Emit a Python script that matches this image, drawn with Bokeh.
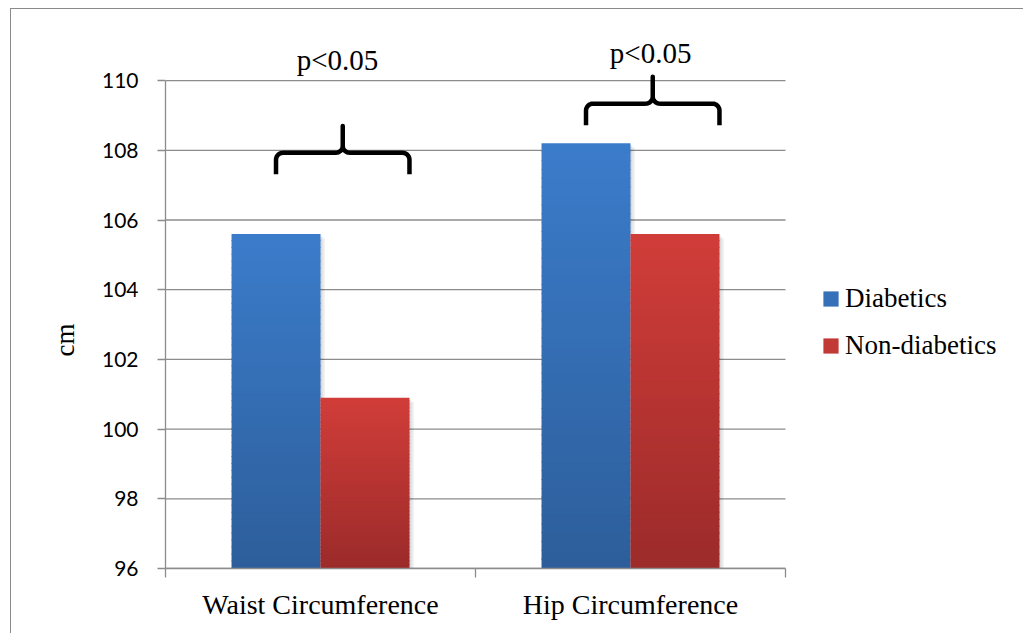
import math
import numpy as np
from bokeh.plotting import figure
from bokeh.models import (FixedTicker, Range1d, ColumnDataSource, Legend,
                          LegendItem, Title, InlineStyleSheet)
from bokeh.core.properties import value
from bokeh.embed import file_html
from bokeh.resources import INLINE

# ---- data -------------------------------------------------------------
categories = ["Waist Circumference", "Hip Circumference"]
series_names = ["Diabetics", "Non-diabetics"]
diabetics = [105.6, 108.2]
non_diabetics = [100.9, 105.6]
y_ticks = [96, 98, 100, 102, 104, 106, 108, 110]
p_labels = ["p<0.05", "p<0.05"]
y_title = "cm"

# ---- layout / style ---------------------------------------------------
W, H = 1023, 633
BORDER_L, BORDER_T, BORDER_B = 165, 8, 65
PLOT_W = 620                         # width of the category area in pixels
n_cat = len(categories)
Y0, Y1 = 96, 112.07
X0 = 0
X1 = n_cat * (W - BORDER_L) / PLOT_W  # frame also holds the legend on the right
frame_h = H - BORDER_T - BORDER_B
px_x = PLOT_W / n_cat               # pixels per x unit
px_y = frame_h / (Y1 - Y0)          # pixels per y unit

group_pad = 0.213                    # gap between category edge and first bar
bar_w = 0.287
gradients = [((59, 124, 202), (45, 94, 155)),     # Diabetics: top, bottom
             ((209, 61, 57), (155, 43, 42))]      # Non-diabetics
legend_colors = ["#3570b8", "#c23a36"]
GRID = "#8c8c8c"
SERIF = "Liberation Serif"

# brace levels (flat part) and label baselines, in y units
brace_flat = [107.93, 109.34]
brace_drop = 0.62
brace_rise = 0.77
label_base = [110.58, 110.78]
label_dx = [0.055, 0.065]

p = figure(width=W, height=H, x_range=Range1d(X0, X1), y_range=Range1d(Y0, Y1),
           output_backend="svg", toolbar_location=None,
           min_border_left=BORDER_L, min_border_right=0,
           min_border_top=BORDER_T, min_border_bottom=BORDER_B)
p.outline_line_color = None
p.background_fill_color = "white"
p.border_fill_color = "white"

# outer chart border (top and left edges)
p.stylesheets = [InlineStyleSheet(css="""
:host::after {
  content: ""; position: absolute; left: 10px; top: 8px; right: 0; bottom: 0;
  border-top: 1.5px solid #8a8a8a; border-left: 1.5px solid #8a8a8a;
  pointer-events: none;
}
""")]

# ---- horizontal grid lines across the category area ------------------
p.segment(x0=[X0] * len(y_ticks), x1=[n_cat] * len(y_ticks), y0=y_ticks, y1=y_ticks,
          line_color=GRID, line_width=1.3)

# ---- gradient bars ----------------------------------------------------
def mix(c_bot, c_top, t):
    r, g, b = (int(round(a + (bb - a) * t)) for a, bb in zip(c_bot, c_top))
    return "#%02x%02x%02x" % (r, g, b)

N = 48
bars = dict(left=[], right=[], bottom=[], top=[], color=[])
shadow = dict(left=[], right=[], bottom=[], top=[])
for gi, cat in enumerate(categories):
    for si, vals in enumerate([diabetics, non_diabetics]):
        v = vals[gi]
        left = gi + group_pad + si * bar_w
        right = left + bar_w
        c_top, c_bot = gradients[si]
        edges = np.linspace(Y0, v, N + 1)
        for k in range(N):
            t = (k + 0.5) / N
            top = edges[k + 1] if k == N - 1 else edges[k + 1] + 0.03
            bars["left"].append(left)
            bars["right"].append(right)
            bars["bottom"].append(edges[k])
            bars["top"].append(top)
            bars["color"].append(mix(c_bot, c_top, t))
        for off in (1.5, 3.0, 4.5):
            shadow["left"].append(left + off / px_x)
            shadow["right"].append(right + off / px_x)
            shadow["bottom"].append(Y0)
            shadow["top"].append(v - off / px_y)

p.quad(left="left", right="right", bottom="bottom", top="top",
       source=ColumnDataSource(shadow), fill_color="black", fill_alpha=0.05,
       line_color=None)
p.quad(left="left", right="right", bottom="bottom", top="top",
       source=ColumnDataSource(bars), fill_color="color", line_color=None)

# ---- braces and significance labels ----------------------------------
def brace(xl, xr, xc, yf):
    r = 7.0
    L = (xl - xc) * px_x
    R = (xr - xc) * px_x
    drop = -brace_drop * px_y
    rise = brace_rise * px_y
    pts = [(L, drop), (L, -r)]
    def arc(cx, cy, a0, a1, n=8):
        return [(cx + r * math.cos(math.radians(a0 + (a1 - a0) * i / n)),
                 cy + r * math.sin(math.radians(a0 + (a1 - a0) * i / n)))
                for i in range(n + 1)]
    pts += arc(L + r, -r, 180, 90)
    pts += arc(-r, r, -90, 0)
    pts += [(0, rise)]
    pts += arc(r, r, 180, 270)
    pts += arc(R - r, -r, 90, 0)
    pts += [(R, drop)]
    xs = [xc + dx / px_x for dx, _ in pts]
    ys = [yf + dy / px_y for _, dy in pts]
    return xs, ys

for gi in range(n_cat):
    xl = gi + group_pad + bar_w / 2
    xr = gi + group_pad + 2 * bar_w
    xc = (xl + xr) / 2
    xs, ys = brace(xl, xr, xc, brace_flat[gi])
    p.line(xs, ys, line_color="black", line_width=4.5, line_join="round")

p.text(x=[gi + 0.5 + label_dx[gi] for gi in range(n_cat)],
       y=label_base, text=p_labels, text_font=value(SERIF),
       text_font_size=value("29px"), text_align="center",
       text_baseline="alphabetic", text_color="black")

# ---- axes -------------------------------------------------------------
xa = p.xaxis[0]
xa.bounds = (0, n_cat)
xa.ticker = FixedTicker(ticks=[i + 0.5 for i in range(n_cat)],
                        minor_ticks=list(range(n_cat + 1)))
xa.major_label_overrides = {i + 0.5: c for i, c in enumerate(categories)}
xa.major_tick_out = 0
xa.major_tick_in = 0
xa.minor_tick_out = 9
xa.minor_tick_in = 0
xa.minor_tick_line_color = GRID
xa.minor_tick_line_width = 1.3
xa.axis_line_color = GRID
xa.axis_line_width = 1.3
xa.major_label_text_font = SERIF
xa.major_label_text_font_size = "28px"
xa.major_label_text_color = "black"
xa.major_label_standoff = 11

ya = p.yaxis[0]
ya.ticker = FixedTicker(ticks=y_ticks, minor_ticks=[])
ya.bounds = (y_ticks[0], y_ticks[-1])
ya.major_tick_out = 8
ya.major_tick_in = 0
ya.major_tick_line_color = GRID
ya.major_tick_line_width = 1.3
ya.axis_line_color = GRID
ya.axis_line_width = 1.3
ya.major_label_text_font = "Lato"
ya.major_label_text_font_size = "21px"
ya.major_label_text_color = "black"
ya.major_label_standoff = 19

p.xgrid.visible = False
p.ygrid.visible = False

p.add_layout(Title(text=y_title, align="left", offset=212, standoff=38,
                   text_font=SERIF, text_font_size="27px",
                   text_font_style="normal", text_color="black"), "left")

# ---- legend -----------------------------------------------------------
items = []
for name, col in zip(series_names, legend_colors):
    r = p.quad(left=[float("nan")], right=[float("nan")], top=[float("nan")],
               bottom=[float("nan")], fill_color=col, line_color=None)
    items.append(LegendItem(label=name, renderers=[r]))
legend = Legend(items=items, location=(656, 207), glyph_width=19, glyph_height=19,
                label_standoff=5, spacing=16, padding=0, margin=0,
                border_line_color=None, background_fill_alpha=0,
                label_text_font=SERIF, label_text_font_size="27px",
                label_text_color="black")
p.add_layout(legend)

open("out.html", "w").write(file_html(p, INLINE))
